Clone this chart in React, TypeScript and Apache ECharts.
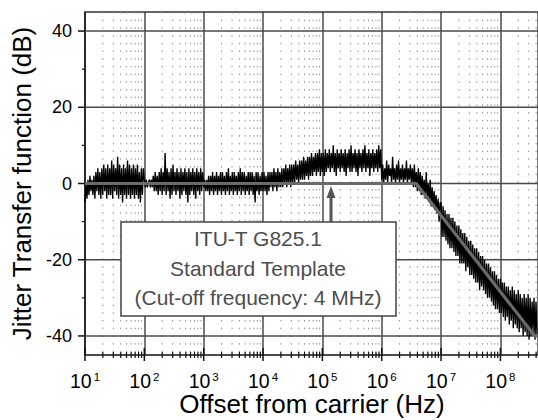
import React, { useEffect, useRef } from "react";
import * as echarts from "echarts";

// ---- axis ranges & ticks ----
const X_MIN = 10;
const X_MAX = 4.3e8;
const Y_MIN = -45;
const Y_MAX = 45;
const X_MAJOR_TICKS = [1e1, 1e2, 1e3, 1e4, 1e5, 1e6, 1e7, 1e8];
const X_MINOR_MULTIPLIERS = [2, 3, 4, 5, 6, 7, 8, 9];
const Y_MAJOR_TICKS = [-40, -20, 0, 20, 40];
const Y_MINOR_TICKS = [-30, -10, 10, 30];
const X_TITLE = "Offset from carrier (Hz)";
const Y_TITLE = "Jitter Transfer function (dB)";

// ---- measured jitter transfer (dB), 60 log-spaced sweep points per decade ----
const FIRST_DECADE = 1; // 10^1 Hz
const POINTS_PER_DECADE = 60;
const DEC_1 = [
  -5, 0, -4, 1, -3, 2, -2, 1, -3, 2, -4, 3, -2, 4, -3, 3, -4, 4, -3, 5,
  -2, 4, -4, 5, -3, 4, -3, 6, -4, 5, -2, 4, -3, 7, -4, 5, -3, 4, -5, 5,
  -3, 4, -4, 6, -3, 5, -4, 4, -3, 5, -4, 4, -3, 5, -4, 3, -5, 4, -3, 4,
];
const DEC_2 = [
  1, -1, 1, -1, 0, 1, -1, 1, -1, 2, -2, 3, -2, 2, -3, 3, -2, 4, -3, 3,
  -2, 8, -3, 4, -2, 3, -4, 4, -3, 5, -2, 3, -3, 4, -2, 3, -4, 4, -3, 3,
  -2, 4, -3, 3, -5, 4, -3, 3, -2, 4, -3, 3, -4, 4, -2, 3, -3, 4, -2, 3,
];
const DEC_3 = [
  -1, 1, -2, 1, -2, 2, -3, 2, -2, 3, -3, 2, -2, 3, -3, 2, -2, 3, -3, 3,
  -2, 2, -3, 3, -2, 4, -3, 2, -2, 3, -3, 3, -2, 2, -3, 3, -2, 4, -3, 3,
  -2, 3, -3, 2, -2, 3, -3, 3, -2, 3, -3, 2, -5, 3, -2, 3, -3, 2, -2, 3,
];
const DEC_4 = [
  -2, 3, -2, 2, -3, 3, -2, 3, -1, 3, -2, 4, -1, 3, -2, 4, -1, 3, -1, 4,
  -1, 4, 0, 5, -1, 4, 0, 5, -1, 5, 0, 5, 0, 6, 1, 5, 0, 6, 1, 6,
  1, 7, 1, 6, 2, 7, 1, 7, 2, 8, 2, 7, 3, 8, 2, 8, 3, 9, 2, 8,
];
const DEC_5 = [
  3, 8, 2, 9, 3, 8, 4, 9, 3, 8, 4, 10, 3, 8, 2, 9, 4, 8, 3, 9,
  4, 8, 3, 9, 2, 8, 4, 9, 3, 10, 3, 8, 4, 9, 3, 8, 2, 9, 4, 8,
  3, 9, 4, 10, 3, 8, 4, 9, 2, 8, 4, 9, 3, 8, 4, 9, 3, 10, 4, 9,
];
const DEC_6 = [
  1, 5, 0, 4, 1, 6, 0, 5, 2, 4, 0, 7, 1, 4, 0, 5, 1, 6, 0, 4,
  1, 5, 0, 4, 1, 6, 0, 4, 1, 5, 0, 4, -1, 5, -1, 3, -2, 4, -2, 3,
  -3, 2, -3, 1, -4, 3, -4, 0, -5, 1, -6, -1, -6, -2, -7, -3, -8, -4, -10, -5,
];
const DEC_7 = [
  -5, -14, -6, -14, -7, -15, -8, -16, -8, -17, -9, -17, -9, -18, -10, -19, -11, -19, -11, -21,
  -12, -21, -13, -21, -13, -23, -14, -22, -15, -24, -15, -24, -16, -25, -17, -26, -17, -26, -18, -28,
  -19, -27, -19, -28, -20, -29, -21, -30, -21, -30, -22, -31, -23, -32, -23, -33, -24, -33, -25, -34,
];
const DEC_8 = [
  -25, -34, -26, -35, -26, -36, -27, -35, -27, -37, -28, -36, -27, -38, -28, -37, -29, -38, -28, -39,
  -29, -38, -30, -40, -29, -39, -30, -40, -29, -41, -30, -40, -31, -39, -30, -41, -31, -40,
];
const DECADES = [DEC_1, DEC_2, DEC_3, DEC_4, DEC_5, DEC_6, DEC_7, DEC_8];

// ---- ITU-T G825.1 template ----
const TEMPLATE_FREQ = [10, 3.8e6, 3.8e8, 4.3e8];
const TEMPLATE_DB = [0, 0, -40, -40];

const FONT = "'Liberation Sans', Arial, Helvetica, sans-serif";

export default function App() {
  const ref = useRef<HTMLDivElement>(null);

  useEffect(() => {
    if (!ref.current) return;
    const chart = echarts.init(ref.current, null, { renderer: "svg" });

    const measured: number[][] = [];
    DECADES.forEach((vals, k) => {
      vals.forEach((v, i) => {
        measured.push([Math.pow(10, FIRST_DECADE + k + i / POINTS_PER_DECADE), v]);
      });
    });
    const template = TEMPLATE_FREQ.map((f, i) => [f, TEMPLATE_DB[i]]);

    const minorX: number[][] = [];
    X_MAJOR_TICKS.forEach((d) => {
      X_MINOR_MULTIPLIERS.forEach((m) => {
        const f = d * m;
        if (f <= X_MAX) minorX.push([f, 0]);
      });
    });
    const majorX = X_MAJOR_TICKS.map((f) => [f, 0]);
    const yMajor = Y_MAJOR_TICKS.map((v) => [X_MIN, v]);
    const yMinor = Y_MINOR_TICKS.map((v) => [X_MIN, v]);

    const option: any = {
      animation: false,
      backgroundColor: "#fff",
      grid: { left: 85, right: 0, top: 12, bottom: 65, containLabel: false, outerBoundsMode: "none" },
      xAxis: [
        {
          type: "log",
          logBase: 10,
          min: X_MIN,
          max: X_MAX,
          splitNumber: 10,
          axisLine: { onZero: false, lineStyle: { color: "#111", width: 1.5 } },
          axisTick: { show: false },
          splitLine: { show: true, lineStyle: { color: "#4a4a4a", width: 1.5 } },
          axisLabel: {
            margin: 16,
            color: "#000",
            fontFamily: FONT,
            fontSize: 19.5,
            formatter: (v: number) => {
              const lg = Math.log10(v);
              const e = Math.round(lg);
              if (Math.abs(lg - e) > 1e-6) return "";
              return `10{s|${e}}`;
            },
            rich: {
              s: { fontFamily: FONT, fontSize: 11.5, color: "#000", verticalAlign: "top", lineHeight: 12, padding: [0, 0, 0, 2] },
            },
          },
        },
        {
          type: "log",
          position: "top",
          min: X_MIN,
          max: X_MAX,
          axisLine: { show: true, onZero: false, lineStyle: { color: "#333", width: 1.5 } },
          axisTick: { show: false },
          axisLabel: { show: false },
          splitLine: { show: false },
        },
      ],
      yAxis: {
        type: "value",
        min: Y_MIN,
        max: Y_MAX,
        interval: 5,
        name: Y_TITLE,
        nameLocation: "middle",
        nameGap: 48,
        nameTextStyle: { fontFamily: FONT, fontSize: 26, color: "#000" },
        axisLine: { show: true, onZero: false, lineStyle: { color: "#111", width: 1.5 } },
        axisTick: { show: false },
        splitLine: { show: false },
        axisLabel: {
          margin: 13,
          fontFamily: FONT,
          fontSize: 18,
          color: "#000",
          formatter: (v: number) => (Math.abs(v % 20) < 1e-6 ? String(v) : ""),
        },
      },
      series: [
        {
          type: "custom",
          name: "minorX",
          data: minorX,
          silent: true,
          renderItem: (_p: any, api: any) => {
            const f = api.value(0);
            const top = api.coord([f, Y_MAX]);
            const bot = api.coord([f, Y_MIN]);
            return {
              type: "group",
              children: [
                { type: "line", shape: { x1: top[0], y1: top[1], x2: bot[0], y2: bot[1] }, style: { stroke: "#909090", lineWidth: 1, lineDash: [1.5, 6.2] } },
                { type: "line", shape: { x1: bot[0], y1: bot[1] - 3, x2: bot[0], y2: bot[1] + 3 }, style: { stroke: "#111", lineWidth: 1.2 } },
              ],
            };
          },
        },
        {
          type: "custom",
          name: "majorX",
          data: majorX,
          silent: true,
          renderItem: (_p: any, api: any) => {
            const bot = api.coord([api.value(0), Y_MIN]);
            return { type: "line", shape: { x1: bot[0], y1: bot[1] - 7, x2: bot[0], y2: bot[1] + 6 }, style: { stroke: "#111", lineWidth: 1.5 } };
          },
        },
        {
          type: "custom",
          name: "yMajor",
          data: yMajor,
          silent: true,
          renderItem: (_p: any, api: any) => {
            const v = api.value(1);
            const a = api.coord([X_MIN, v]);
            const b = api.coord([X_MAX, v]);
            return {
              type: "group",
              children: [
                { type: "line", shape: { x1: a[0], y1: a[1], x2: b[0], y2: b[1] }, style: { stroke: "#4a4a4a", lineWidth: 1.5 } },
                { type: "line", shape: { x1: a[0] - 7, y1: a[1], x2: a[0], y2: a[1] }, style: { stroke: "#111", lineWidth: 1.5 } },
              ],
            };
          },
        },
        {
          type: "custom",
          name: "yMinor",
          data: yMinor,
          silent: true,
          renderItem: (_p: any, api: any) => {
            const a = api.coord([X_MIN, api.value(1)]);
            return { type: "line", shape: { x1: a[0] - 3, y1: a[1], x2: a[0], y2: a[1] }, style: { stroke: "#111", lineWidth: 1.2 } };
          },
        },
        {
          type: "line",
          name: "Measured",
          data: measured,
          showSymbol: false,
          symbol: "none",
          lineStyle: { color: "#000", width: 1.35 },
          z: 3,
        },
        {
          type: "line",
          name: "Template",
          data: template,
          showSymbol: false,
          symbol: "none",
          lineStyle: { color: "#6a6a6a", width: 3.2 },
          z: 4,
        },
      ],
      graphic: [
        { type: "text", z: 101, style: { x: 312, y: 404, text: X_TITLE, font: `26px ${FONT}`, fill: "#000", textAlign: "center", textVerticalAlign: "middle" } },
        { type: "line", z: 100, shape: { x1: 331, y1: 222, x2: 331, y2: 196 }, style: { stroke: "#555", lineWidth: 3 } },
        { type: "polygon", z: 100, shape: { points: [[331, 186], [326.5, 198], [335.5, 198]] }, style: { fill: "#555" } },
        { type: "rect", z: 100, shape: { x: 121, y: 222, width: 275, height: 94 }, style: { fill: "#fff", stroke: "#444", lineWidth: 1.5 } },
        { type: "text", z: 101, style: { x: 258, y: 238, text: "ITU-T G825.1", font: `21px ${FONT}`, fill: "#4d4d4d", textAlign: "center", textVerticalAlign: "middle" } },
        { type: "text", z: 101, style: { x: 258, y: 268, text: "Standard Template", font: `21px ${FONT}`, fill: "#4d4d4d", textAlign: "center", textVerticalAlign: "middle" } },
        { type: "text", z: 101, style: { x: 258, y: 297, text: "(Cut-off frequency: 4 MHz)", font: `21px ${FONT}`, fill: "#4d4d4d", textAlign: "center", textVerticalAlign: "middle" } },
      ],
    };

    chart.setOption(option);
    return () => chart.dispose();
  }, []);

  return <div ref={ref} style={{ width: 538, height: 420, position: "absolute", left: 0, top: 0 }} />;
}
